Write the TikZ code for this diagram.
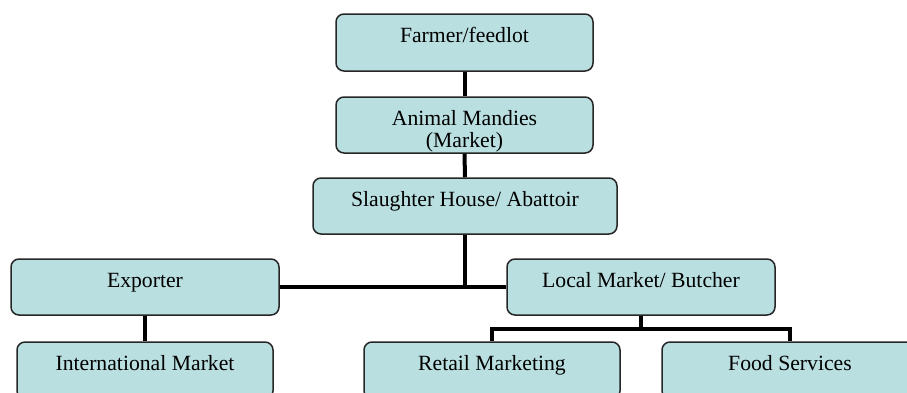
\documentclass[tikz,border=0pt]{standalone}
\usepackage{fontspec}
\setmainfont{Liberation Serif}
\begin{document}
\begin{tikzpicture}[x=0.5pt,y=-0.5pt,
  box/.style={draw=black!85, line width=0.75pt, fill=boxfill, rounded corners=4pt,
    inner xsep=0pt, inner ysep=0pt, align=center, text height=14pt,
    font=\fontsize{10.85}{11}\selectfont},
  link/.style={line width=2pt, draw=black}]
\definecolor{boxfill}{RGB}{185,223,225}
\useasboundingbox (0,0) rectangle (907,392);
\clip (0,0) rectangle (907,392);

% supply chain stages
\node[box, minimum width=128.5pt, minimum height=28.5pt, text depth=14.5pt] (farmer) at (464.5,42.5) {Farmer/feedlot};
\node[box, minimum width=128.5pt, minimum height=28pt, text height=25pt, text depth=3pt] (mandi) at (464.5,125) {Animal Mandies\\(Market)};
\node[box, minimum width=152pt, minimum height=28pt, text depth=14pt] (slaughter) at (465,206) {Slaughter House/ Abattoir};
\node[box, minimum width=134pt, minimum height=28pt, text depth=14pt] (exporter) at (145,287) {Exporter};
\node[box, minimum width=134pt, minimum height=28pt, text depth=14pt] (local) at (641,287) {Local Market/ Butcher};
\node[box, minimum width=128pt, minimum height=28.5pt, text depth=14.5pt] (intl) at (145,370.5) {International Market};
\node[box, minimum width=128pt, minimum height=28.5pt, text depth=14.5pt] (retail) at (492,370.5) {Retail Marketing};
\node[box, minimum width=128pt, minimum height=28.5pt, text depth=14.5pt] (food) at (790,370.5) {Food Services};

% connectors
\draw[link] (farmer.south) -- (mandi.north);
\draw[link] (mandi.south) -- (slaughter.north);
\draw[link] (slaughter.south) -- (slaughter.south |- exporter.east);
\draw[link] (exporter.east) -- (local.west);
\draw[link] (exporter.south) -- (intl.north);
\coordinate (split) at (641,329);
\draw[link] (local.south) -- (split);
\draw[link] (retail.north) |- (split) -| (food.north);
\end{tikzpicture}
\end{document}
